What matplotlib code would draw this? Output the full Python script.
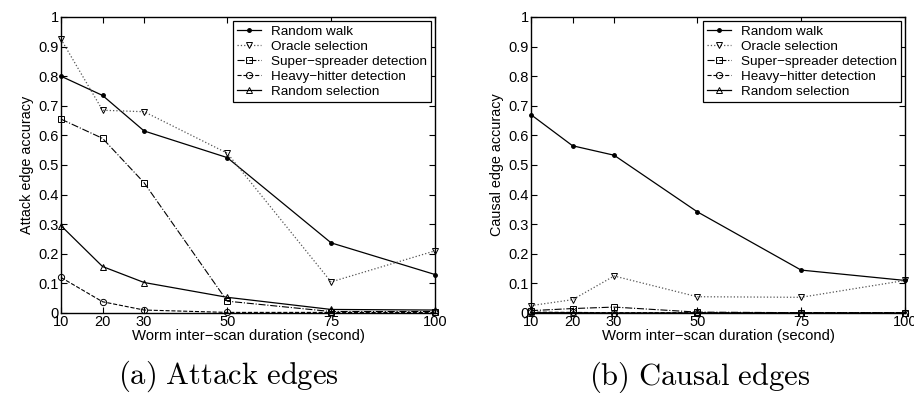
import numpy as np
import matplotlib
matplotlib.use("Agg")
import matplotlib.pyplot as plt

# ------------------------------------------------------------
# DATA
# ------------------------------------------------------------

durations = [10, 20, 30, 50, 75, 100]
series_names = ["Random walk", "Oracle selection", "Super\u2212spreader detection",
                "Heavy\u2212hitter detection", "Random selection"]

# (a) attack edges
attack_random_walk = [0.80, 0.735, 0.615, 0.525, 0.237, 0.130]
attack_oracle      = [0.925, 0.685, 0.680, 0.540, 0.105, 0.210]
attack_super       = [0.655, 0.590, 0.440, 0.040, 0.005, 0.005]
attack_heavy       = [0.120, 0.038, 0.010, 0.002, 0.002, 0.002]
attack_random_sel  = [0.295, 0.157, 0.103, 0.053, 0.012, 0.010]

# (b) causal edges
causal_random_walk = [0.670, 0.565, 0.533, 0.342, 0.145, 0.110]
causal_oracle      = [0.025, 0.045, 0.125, 0.055, 0.053, 0.110]
causal_super       = [0.008, 0.015, 0.020, 0.003, 0.001, 0.001]
causal_heavy       = [0.003, 0.002, 0.001, 0.001, 0.001, 0.001]
causal_random_sel  = [0.001, 0.001, 0.000, 0.000, 0.000, 0.000]

# ------------------------------------------------------------
# STYLE
# ------------------------------------------------------------

plt.rcParams["font.family"] = ["Liberation Sans", "DejaVu Sans"]
plt.rcParams["mathtext.fontset"] = "cm"

STYLES = [
    dict(linestyle="-",  marker=".", markersize=5, color="black", linewidth=0.9),
    dict(linestyle=":",  marker="v", markersize=5, color="#555555", linewidth=0.9,
         markerfacecolor="none", markeredgecolor="black", markeredgewidth=0.7),
    dict(linestyle="-.", marker="s", markersize=4, color="black", linewidth=0.8,
         markerfacecolor="none", markeredgewidth=0.7),
    dict(linestyle="--", marker="o", markersize=4.5, color="black", linewidth=0.8,
         markerfacecolor="none", markeredgewidth=0.7),
    dict(linestyle="-",  marker="^", markersize=5, color="black", linewidth=0.9,
         markerfacecolor="none", markeredgewidth=0.7),
]

fig = plt.figure(figsize=(9.14, 3.93), dpi=100)
ax_a = fig.add_axes([61 / 914, 1 - 313 / 393, 374 / 914, 296 / 393])
ax_b = fig.add_axes([531 / 914, 1 - 313 / 393, 374 / 914, 296 / 393])


def draw(ax, values, ylabel):
    for name, vals, st in zip(series_names, values, STYLES):
        ax.plot(durations, vals, label=name, clip_on=False, **st)
    ax.set_xlim(10, 100)
    ax.set_ylim(0, 1)
    ax.set_xticks(durations)
    ax.set_yticks(np.arange(0, 1.01, 0.1))
    ax.set_yticklabels(["0"] + [f"{v:.1f}" for v in np.arange(0.1, 0.95, 0.1)] + ["1"])
    ax.tick_params(direction="in", top=True, right=True, labelsize=10.5,
                   length=4, width=0.8, pad=1.5)
    for sp in ax.spines.values():
        sp.set_linewidth(1.0)
    ax.set_xlabel("Worm inter\u2212scan duration (second)", fontsize=10.7, labelpad=0)
    ax.set_ylabel(ylabel, fontsize=10.4, labelpad=3)
    leg = ax.legend(loc="upper right", fontsize=9.7, frameon=True, fancybox=False,
                    edgecolor="black", framealpha=1, handlelength=1.8,
                    handletextpad=0.7, borderpad=0.3, labelspacing=0.2,
                    borderaxespad=0.3)
    leg.get_frame().set_linewidth(0.9)


draw(ax_a, [attack_random_walk, attack_oracle, attack_super, attack_heavy,
            attack_random_sel], "Attack edge accuracy")
draw(ax_b, [causal_random_walk, causal_oracle, causal_super, causal_heavy,
            causal_random_sel], "Causal edge accuracy")

fig.text(228 / 914, 1 - 376 / 393, r"$\mathrm{(a)\ Attack\ edges}$",
         ha="center", va="center", fontsize=22)
fig.text(700 / 914, 1 - 377 / 393, r"$\mathrm{(b)\ Causal\ edges}$",
         ha="center", va="center", fontsize=22)

fig.savefig("out.png", dpi=100)
